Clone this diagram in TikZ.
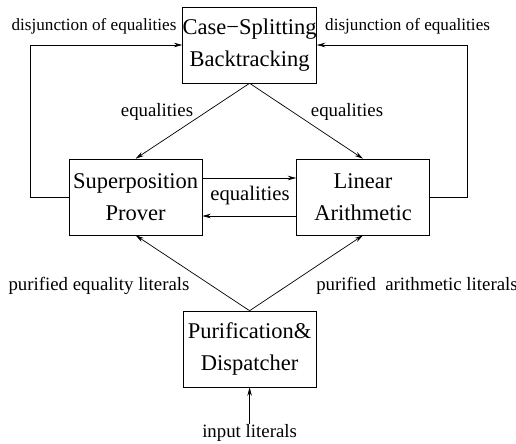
\documentclass[tikz,border=0pt]{standalone}
\usepackage{fontspec}
\setmainfont{Liberation Serif}
\usetikzlibrary{arrows.meta}
\begin{document}
\begin{tikzpicture}[x=1cm,y=1cm,
  unit/.style={draw, minimum width=3.325cm, minimum height=1.9cm, inner sep=0pt, align=center, font=\fontsize{16}{22.5}\selectfont},
  lbl/.style={font=\fontsize{13.4}{15}\selectfont, inner sep=0pt},
  arr/.style={-{Stealth[length=6pt,width=3.2pt]}, line width=0.5pt}]
\useasboundingbox (0,0) rectangle (12.9,11.075);
\node[unit] (cs) at (6.24,9.95) {Case\textminus Splitting\\Backtracking};
\node[unit] (sp) at (3.39,6.15) {Superposition\\Prover};
\node[unit] (la) at (9.075,6.15) {Linear\\Arithmetic};
\node[unit] (pd) at (6.24,2.35) {Purification\&\\Dispatcher};
\node[lbl] (in) at (6.24,0.25) {input literals};
\node[lbl, font=\fontsize{12.2}{14}\selectfont] (dl) at (2.35,10.425) {disjunction of equalities};
\node[lbl, font=\fontsize{12.2}{14}\selectfont] (dr) at (10.19,10.425) {disjunction of equalities};
\node[lbl] (el) at (3.925,8.275) {equalities};
\node[lbl] (er) at (8.675,8.275) {equalities};
\node[lbl, font=\fontsize{14.7}{16}\selectfont] (em) at (6.25,6.175) {equalities};
\node[lbl] (pe) at (2.475,3.925) {purified equality literals};
\node[lbl, anchor=west] (pa) at (7.9,3.925) {purified\ \ arithmetic literals};
\draw[arr] (in) -- (pd.south);
\draw[arr] (pd.north) -- (sp.south);
\draw[arr] (pd.north) -- (la.south);
\draw[arr] (cs.south) -- (sp.north);
\draw[arr] (cs.south) -- (la.north);
\draw[arr] ([yshift=0.475cm]sp.east) -- ([yshift=0.475cm]la.west);
\draw[arr] ([yshift=-0.475cm]la.west) -- ([yshift=-0.475cm]sp.east);
\draw[arr] (sp.west) -- ++(-0.95,0) |- (cs.west);
\draw[arr] (la.east) -- ++(0.95,0) |- (cs.east);
\end{tikzpicture}
\end{document}
